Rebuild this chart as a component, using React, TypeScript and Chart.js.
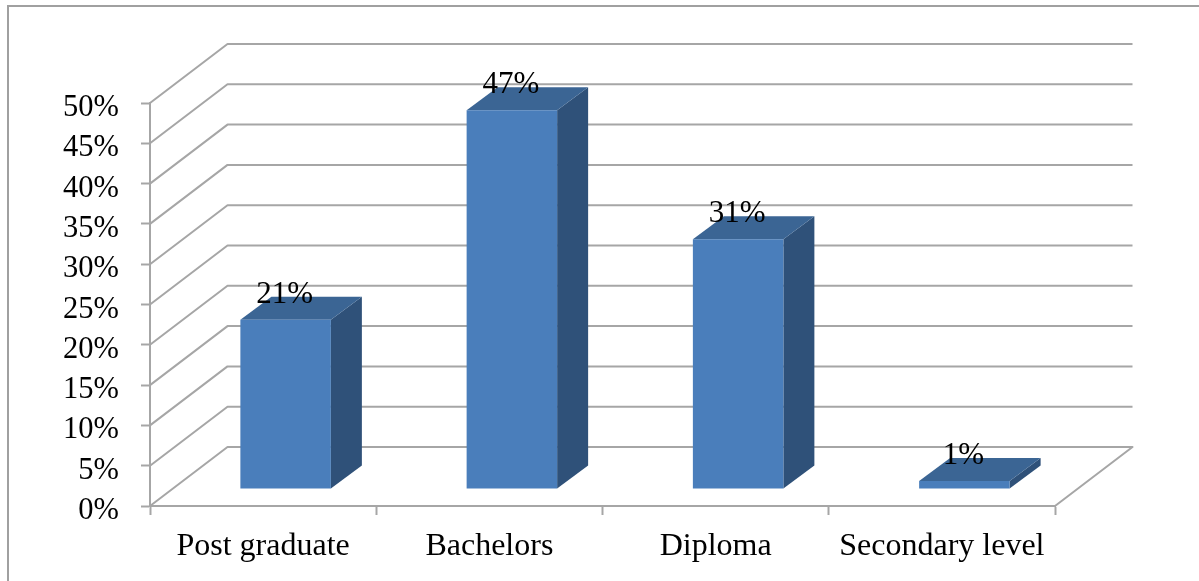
import { useEffect, useRef } from "react";
import { Chart, registerables } from "chart.js";

Chart.register(...registerables);

const categories = ["Post graduate", "Bachelors", "Diploma", "Secondary level"];
const shares = [21, 47, 31, 1];

const GRID_COLOR = "#a6a6a6";
const FRONT_COLOR = "#4a7ebb";
const SIDE_COLOR = "#2f5179";
const TOP_COLOR = "#3b6594";
const FONT_FAMILY = '"Liberation Serif", "Times New Roman", serif';

// Projection of the back wall relative to the front plane of the plot.
const WALL_DX = 77.5;
const WALL_DY = -59;
// Bars stand halfway into the floor and have this much visible depth.
const BAR_SHIFT_X = 22.5;
const BAR_SHIFT_Y = -17;
const BAR_DEPTH_X = 31;
const BAR_DEPTH_Y = -23;

const polygon = (ctx: CanvasRenderingContext2D, pts: number[][], fill: string) => {
  ctx.beginPath();
  pts.forEach(([x, y], i) => (i ? ctx.lineTo(x, y) : ctx.moveTo(x, y)));
  ctx.closePath();
  ctx.fillStyle = fill;
  ctx.fill();
};

const perspective3d = {
  id: "perspective3d",
  beforeDatasetsDraw(chart: any) {
    const { ctx, chartArea, scales } = chart;
    ctx.save();
    ctx.strokeStyle = GRID_COLOR;
    ctx.lineWidth = 2;
    ctx.lineJoin = "round";
    for (const tick of scales.y.ticks) {
      const y = scales.y.getPixelForValue(tick.value);
      ctx.beginPath();
      ctx.moveTo(chartArea.left, y);
      ctx.lineTo(chartArea.left + WALL_DX, y + WALL_DY);
      ctx.lineTo(chartArea.right + WALL_DX, y + WALL_DY);
      if (tick.value === 0) ctx.lineTo(chartArea.right, y);
      ctx.stroke();
    }
    ctx.restore();

    // Side and top faces, then the library's own bars, all shifted into the floor.
    ctx.save();
    ctx.translate(BAR_SHIFT_X, BAR_SHIFT_Y);
    for (const bar of chart.getDatasetMeta(0).data) {
      const l = bar.x - bar.width / 2;
      const r = bar.x + bar.width / 2;
      polygon(
        ctx,
        [
          [r, bar.y],
          [r + BAR_DEPTH_X, bar.y + BAR_DEPTH_Y],
          [r + BAR_DEPTH_X, bar.base + BAR_DEPTH_Y],
          [r, bar.base],
        ],
        SIDE_COLOR,
      );
      polygon(
        ctx,
        [
          [l, bar.y],
          [l + BAR_DEPTH_X, bar.y + BAR_DEPTH_Y],
          [r + BAR_DEPTH_X, bar.y + BAR_DEPTH_Y],
          [r, bar.y],
        ],
        TOP_COLOR,
      );
    }
  },
  afterDatasetsDraw(chart: any) {
    const { ctx } = chart;
    ctx.restore();
    ctx.save();
    ctx.fillStyle = "#000";
    ctx.font = `31px ${FONT_FAMILY}`;
    ctx.textAlign = "center";
    ctx.textBaseline = "middle";
    chart.getDatasetMeta(0).data.forEach((bar: any, i: number) => {
      ctx.fillText(`${shares[i]}%`, bar.x + BAR_SHIFT_X - 1, bar.y + BAR_SHIFT_Y - 25);
    });
    ctx.restore();
  },
};

export default function App() {
  const canvasRef = useRef<HTMLCanvasElement>(null);

  useEffect(() => {
    const chart = new Chart(canvasRef.current!, {
      type: "bar",
      data: {
        labels: categories,
        datasets: [
          {
            data: shares,
            backgroundColor: FRONT_COLOR,
            categoryPercentage: 1,
            barPercentage: 0.4,
          },
        ],
      },
      options: {
        responsive: false,
        animation: false,
        layout: { padding: { left: 0, right: 144, top: 103, bottom: 0 } },
        plugins: { legend: { display: false }, tooltip: { enabled: false } },
        scales: {
          x: {
            afterFit: (scale: any) => {
              scale.height = 75;
            },
            grid: {
              drawOnChartArea: false,
              drawTicks: true,
              tickLength: 9,
              tickWidth: 2,
              tickColor: GRID_COLOR,
            },
            border: { color: GRID_COLOR, width: 2 },
            ticks: {
              color: "#000",
              padding: 12,
              maxRotation: 0,
              autoSkip: false,
              font: { family: FONT_FAMILY, size: 32 },
            },
          },
          y: {
            min: 0,
            max: 50,
            afterFit: (scale: any) => {
              scale.width = 150;
            },
            grid: {
              drawOnChartArea: false,
              drawTicks: true,
              tickLength: 9,
              tickWidth: 2,
              tickColor: GRID_COLOR,
            },
            border: { color: GRID_COLOR, width: 2 },
            ticks: {
              stepSize: 5,
              color: "#000",
              padding: 22,
              labelOffset: 5,
              font: { family: FONT_FAMILY, size: 30.5 },
              callback: (value: any) => `${value}%`,
            },
          },
        },
      },
      plugins: [perspective3d],
    } as any);
    return () => chart.destroy();
  }, []);

  return (
    <div style={{ position: "fixed", left: 0, top: 0, width: 1199, height: 581, overflow: "hidden", background: "#fff" }}>
      <div
        style={{
          position: "absolute",
          left: 7,
          top: 5,
          right: -4,
          bottom: -4,
          borderLeft: "2px solid #a0a0a0",
          borderTop: "2px solid #a0a0a0",
        }}
      />
      <canvas ref={canvasRef} width={1199} height={581} style={{ position: "absolute", left: 0, top: 0 }} />
    </div>
  );
}
